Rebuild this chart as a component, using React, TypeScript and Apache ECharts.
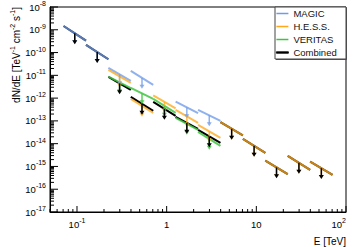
import React, { useEffect, useRef } from 'react';
import * as echarts from 'echarts';

const FONT = '"Liberation Sans", Arial, Helvetica, sans-serif';

// Energy bin edges [TeV]
const binEdges = [0.0708, 0.126, 0.224, 0.398, 0.708, 1.259, 2.239, 3.981, 7.079, 12.59, 22.39, 39.81, 70.79];

// Upper limits: flux at the low and high edge of each bin [TeV^-1 cm^-2 s^-1]
const magicBins = [0, 1, 2, 3, 5, 6];
const magicLow = [1.47e-9, 2.16e-10, 2.11e-11, 1.56e-11, 7.02e-13, 3.03e-13];
const magicHigh = [3.33e-10, 5.08e-11, 5.68e-12, 3.79e-12, 2.18e-13, 1.0e-13];

const hessBins = [2, 3, 4, 5, 6, 7, 8, 9, 10, 11];
const hessLow = [1.73e-11, 9.23e-13, 1.31e-12, 3.03e-13, 6.68e-14, 8.77e-14, 1.62e-14, 1.81e-15, 2.92e-15, 1.64e-15];
const hessHigh = [4.64e-12, 2.24e-13, 3.53e-13, 8.17e-14, 1.8e-14, 2.31e-14, 3.95e-15, 4.59e-16, 7.1e-16, 4.28e-16];

const veritasBins = [2, 3, 4, 5, 6];
const veritasLow = [8.77e-12, 2.8e-12, 9.23e-13, 1.35e-13, 3.3e-14];
const veritasHigh = [2.72e-12, 9.23e-13, 2.24e-13, 4.03e-14, 8.01e-15];

const combinedBins = [0, 1, 2, 3, 4, 5, 6, 7, 8, 9, 10, 11];
const combinedLow = [1.47e-9, 2.16e-10, 8.51e-12, 1.13e-12, 6.81e-13, 1.5e-13, 4.03e-14, 8.77e-14, 1.62e-14, 1.81e-15, 2.92e-15, 1.64e-15];
const combinedHigh = [3.33e-10, 5.08e-11, 2.29e-12, 2.75e-13, 1.66e-13, 4.46e-14, 1.08e-14, 2.31e-14, 3.95e-15, 4.59e-16, 7.1e-16, 4.28e-16];

const seriesNames = ['MAGIC', 'H.E.S.S.', 'VERITAS', 'Combined'];
const seriesColors = ['#6f9be8', '#ffa91a', '#3fc43f', '#000000'];
const seriesOpacity = [0.78, 0.78, 0.85, 1];

// axis tick decorations
const xDecades = [0.01, 0.1, 1, 10];
const yDecades = [1e-17, 1e-16, 1e-15, 1e-14, 1e-13, 1e-12, 1e-11, 1e-10, 1e-9];
const mult = [1, 2, 3, 4, 5, 6, 7, 8, 9];
const X_MIN = 0.05, X_MAX = 100, Y_MIN = 1e-17, Y_MAX = 1e-8;

const ARROW_FACTOR = 3;

function segData(bins: number[], low: number[], high: number[]) {
  return bins.map((b, i) => [binEdges[b], low[i], binEdges[b + 1], high[i]]);
}

function segRender(color: string, width: number, opacity: number) {
  return (params: any, api: any) => {
    const p1 = api.coord([api.value(0), api.value(1)]);
    const p2 = api.coord([api.value(2), api.value(3)]);
    return {
      type: 'line',
      shape: { x1: p1[0], y1: p1[1], x2: p2[0], y2: p2[1] },
      style: { stroke: color, lineWidth: width, opacity },
    };
  };
}

function arrowRender(color: string, opacity: number) {
  return (params: any, api: any) => {
    const e1 = api.value(0), f1 = api.value(1), e2 = api.value(2), f2 = api.value(3);
    const em = Math.sqrt(e1 * e2);
    const fm = Math.sqrt(f1 * f2);
    const p = api.coord([em, fm]);
    const q = api.coord([em, fm / ARROW_FACTOR]);
    return {
      type: 'group',
      children: [
        { type: 'line', shape: { x1: p[0], y1: p[1], x2: q[0], y2: q[1] - 3 }, style: { stroke: color, lineWidth: 1.5, opacity } },
        { type: 'polygon', shape: { points: [[q[0] - 2.5, q[1] - 4], [q[0] + 2.5, q[1] - 4], [q[0], q[1]]] }, style: { fill: color, opacity } },
      ],
    };
  };
}

const richLabel = {
  b: { fontSize: 9.5, fontFamily: FONT, color: '#000', lineHeight: 14 },
  s: { fontSize: 7, fontFamily: FONT, color: '#000', lineHeight: 7, verticalAlign: 'top' },
};

function powLabel(v: number) {
  const n = Math.round(Math.log10(v));
  if (n === 0) return '{b|1}';
  if (n === 1) return '{b|10}';
  return '{b|10}{s|' + (n < 0 ? '-' : '') + Math.abs(n) + '}';
}

export default function App() {
  const ref = useRef<HTMLDivElement>(null);
  useEffect(() => {
    const chart = echarts.init(ref.current!, null, { renderer: 'svg' });

    const xTicks: number[][] = [];
    xDecades.forEach((d) => mult.forEach((m) => {
      const v = d * m;
      if (v >= X_MIN * 0.999 && v <= X_MAX * 1.001) xTicks.push([v, Y_MIN, m === 1 ? 1 : 0]);
    }));
    xTicks.push([X_MAX, Y_MIN, 1]);
    const yTicks: number[][] = [];
    yDecades.forEach((d) => mult.forEach((m) => {
      const v = d * m;
      if (v >= Y_MIN * 0.999 && v <= Y_MAX * 1.001) yTicks.push([X_MIN, v, m === 1 ? 1 : 0]);
    }));
    yTicks.push([X_MIN, Y_MAX, 1]);

    const exp = [
      { name: 'MAGIC', data: segData(magicBins, magicLow, magicHigh), color: seriesColors[0], op: seriesOpacity[0] },
      { name: 'H.E.S.S.', data: segData(hessBins, hessLow, hessHigh), color: seriesColors[1], op: seriesOpacity[1] },
      { name: 'VERITAS', data: segData(veritasBins, veritasLow, veritasHigh), color: seriesColors[2], op: seriesOpacity[2] },
    ];
    const comb = segData(combinedBins, combinedLow, combinedHigh);

    const series: any[] = [];
    series.push({
      type: 'custom', name: 'Combined', coordinateSystem: 'cartesian2d', z: 2,
      itemStyle: { color: '#000' }, encode: { x: [0, 2], y: [1, 3] },
      data: comb, renderItem: segRender('#000', 2, 1), silent: true,
    });
    exp.forEach((s) => {
      series.push({
        type: 'custom', name: s.name, coordinateSystem: 'cartesian2d', z: 3,
        itemStyle: { color: s.color }, encode: { x: [0, 2], y: [1, 3] },
        data: s.data, renderItem: segRender(s.color, 2, s.op), silent: true,
      });
      series.push({
        type: 'custom', name: s.name, coordinateSystem: 'cartesian2d', z: 4,
        itemStyle: { color: s.color }, encode: { x: [0, 2], y: [1, 3] },
        data: s.data, renderItem: arrowRender(s.color, s.op), silent: true,
      });
    });
    series.push({
      type: 'custom', name: 'Combined', coordinateSystem: 'cartesian2d', z: 5,
      itemStyle: { color: '#000' }, encode: { x: [0, 2], y: [1, 3] },
      data: comb, renderItem: arrowRender('#000', 1), silent: true,
    });
    series.push({
      type: 'custom', name: 'xticks', coordinateSystem: 'cartesian2d', z: 6, silent: true,
      encode: { x: 0, y: 1 }, data: xTicks,
      renderItem: (params: any, api: any) => {
        const p = api.coord([api.value(0), api.value(1)]);
        const len = api.value(2) ? 6 : 3;
        return { type: 'line', shape: { x1: p[0], y1: p[1], x2: p[0], y2: p[1] - len }, style: { stroke: '#000', lineWidth: 1 } };
      },
    });
    series.push({
      type: 'custom', name: 'yticks', coordinateSystem: 'cartesian2d', z: 6, silent: true,
      encode: { x: 0, y: 1 }, data: yTicks,
      renderItem: (params: any, api: any) => {
        const p = api.coord([api.value(0), api.value(1)]);
        const len = api.value(2) ? 8 : 4;
        return { type: 'line', shape: { x1: p[0], y1: p[1], x2: p[0] + len, y2: p[1] }, style: { stroke: '#000', lineWidth: 1 } };
      },
    });

    chart.setOption({
      animation: false,
      backgroundColor: '#fff',
      grid: { left: 50, right: 11, top: 7, bottom: 35, show: true, borderColor: '#000', borderWidth: 1, backgroundColor: 'transparent', containLabel: false },
      xAxis: {
        type: 'log', logBase: 10, min: X_MIN, max: X_MAX,
        axisLine: { show: true, lineStyle: { color: '#000', width: 1 } },
        axisTick: { show: false }, minorTick: { show: false }, splitLine: { show: false },
        axisLabel: { formatter: powLabel, rich: richLabel, margin: 5, showMinLabel: false, alignMaxLabel: 'right' },
      },
      yAxis: {
        type: 'log', logBase: 10, min: Y_MIN, max: Y_MAX, splitNumber: 9,
        axisLine: { show: true, lineStyle: { color: '#000', width: 1 } },
        axisTick: { show: false }, minorTick: { show: false }, splitLine: { show: false },
        axisLabel: { formatter: powLabel, rich: richLabel, margin: 4 },
      },
      legend: {
        left: 276, top: 8, orient: 'vertical', padding: 0,
        data: seriesNames.map((n, i) => ({ name: n, itemStyle: { color: seriesColors[i], borderWidth: i === 3 ? 0.8 : 0, borderColor: seriesColors[i] } })),
        icon: 'rect', itemWidth: 12, itemHeight: 1.5, itemGap: 2, selectedMode: false,
        textStyle: { fontSize: 9.5, fontFamily: FONT, color: '#111', lineHeight: 11 },
        z: 10,
      },
      graphic: [
        { type: 'rect', z: 8, shape: { x: 276, y: 8, width: 71, height: 52 }, style: { fill: '#555' }, silent: true },
        { type: 'rect', z: 9, shape: { x: 275, y: 7, width: 71, height: 52 }, style: { fill: '#fff', stroke: '#444', lineWidth: 1 }, silent: true },
        {
          type: 'text', z: 9, x: 346, y: 241, silent: true,
          style: { text: 'E [TeV]', font: '10px ' + FONT, fill: '#000', align: 'right', verticalAlign: 'middle' },
        },
        {
          type: 'text', z: 9, x: 16, y: 7, rotation: Math.PI / 2, silent: true,
          style: {
            text: '{a|dN/dE [TeV}{s|-1}{a| cm}{s|-2}{a| s}{s|-1}{a|]}',
            align: 'right', verticalAlign: 'middle', fill: '#000',
            rich: {
              a: { fontSize: 10, fontFamily: FONT, fill: '#000', lineHeight: 14 },
              s: { fontSize: 7, fontFamily: FONT, fill: '#000', lineHeight: 7, verticalAlign: 'top' },
            },
          },
        },
      ],
      series,
    });
    return () => chart.dispose();
  }, []);
  return <div ref={ref} style={{ position: 'absolute', left: 0, top: 0, width: 357, height: 247, background: '#fff' }} />;
}
